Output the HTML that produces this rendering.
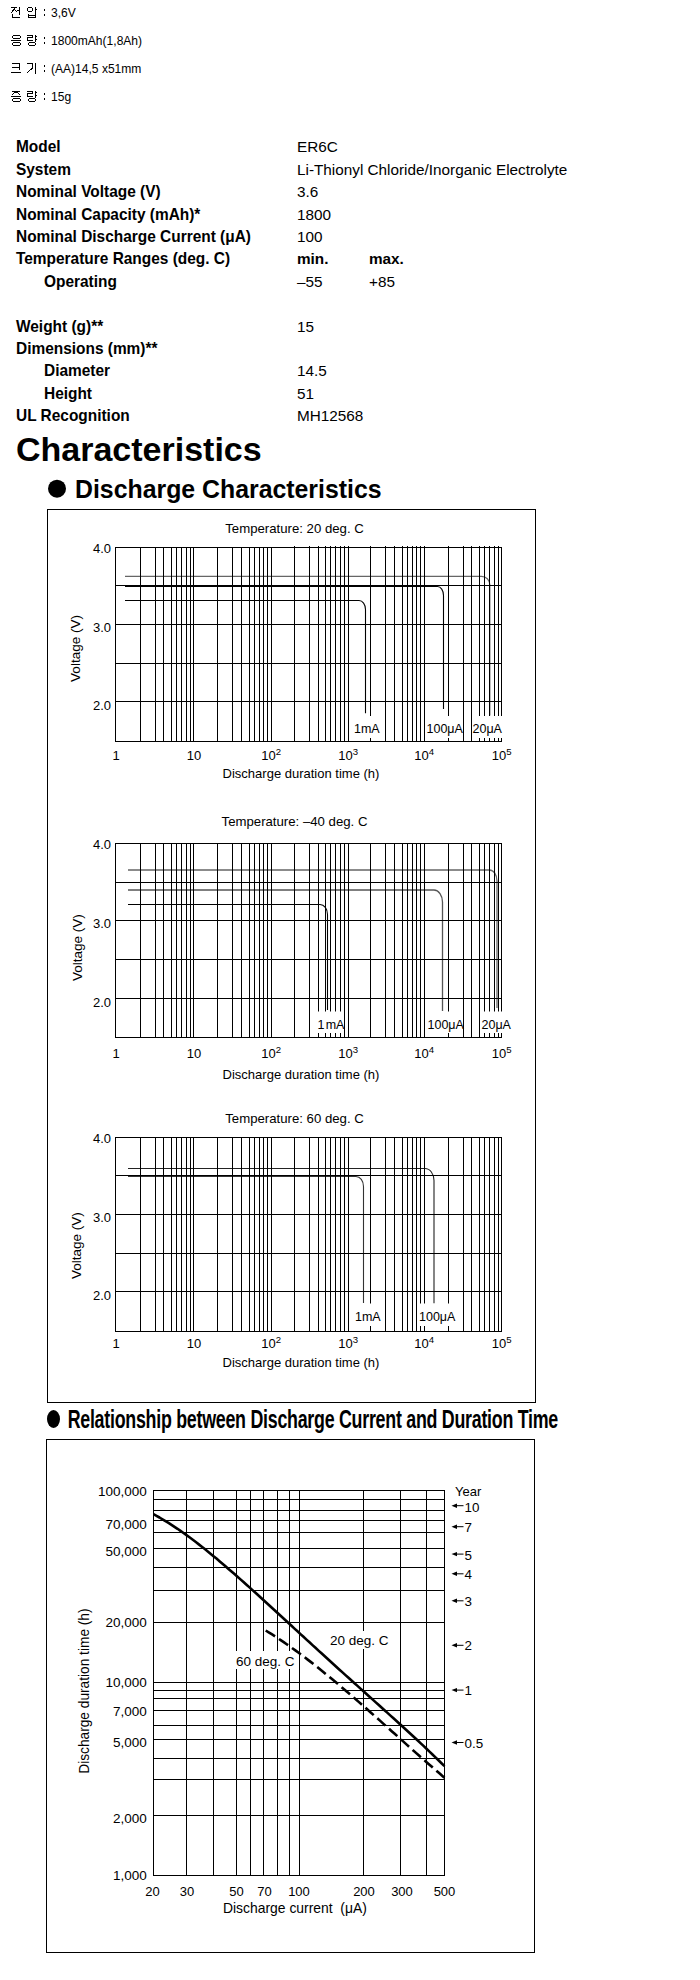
<!DOCTYPE html><html><head><meta charset="utf-8"><title>ER6C</title><style>
html,body{margin:0;padding:0;background:#fff;width:700px;height:1980px;overflow:hidden}
svg{position:absolute;left:0;top:0;font-family:"Liberation Sans", sans-serif}
</style></head><body>
<svg width="700" height="1980" viewBox="0 0 700 1980">
<path transform="translate(11,7)" d="M0 0.5H6M3.5 1L0.5 6M3.5 2.5L6.5 5.5M8.5 0V8M6 3.5H9M1.5 7V11M1 10.5H9" fill="none" stroke="#000" stroke-width="1" shape-rendering="crispEdges"/>
<path transform="translate(27,7)" d="M1 0.5H5M1 4.5H5M0.5 1V4M5.5 1V4M8.5 0V8M8 2.5H10M1.5 7V11M8.5 7V11M1 8.5H9M1 10.5H9" fill="none" stroke="#000" stroke-width="1" shape-rendering="crispEdges"/>
<rect x="44" y="9" width="1" height="2" fill="#000"/><rect x="44" y="14" width="1" height="2" fill="#000"/>
<text x="51" y="17" font-size="13.4" transform="translate(51 0) scale(0.9 1) translate(-51 0)">3,6V</text>
<path transform="translate(11,35)" d="M2 0.5H9M2 3.5H9M1.5 1V3M9.5 1V3M0 5.5H10M2 7.5H9M2 10.5H9M1.5 8V10M9.5 8V10" fill="none" stroke="#000" stroke-width="1" shape-rendering="crispEdges"/>
<path transform="translate(27,35)" d="M0 0.5H6M5.5 0V3M0 2.5H6M0.5 2V6M0 5.5H6M8.5 0V7M8 1.5H10M8 4.5H10M2 7.5H8M2 10.5H8M1.5 8V10M8.5 8V10" fill="none" stroke="#000" stroke-width="1" shape-rendering="crispEdges"/>
<rect x="44" y="37" width="1" height="2" fill="#000"/><rect x="44" y="42" width="1" height="2" fill="#000"/>
<text x="51" y="45" font-size="13.4" transform="translate(51 0) scale(0.9 1) translate(-51 0)">1800mAh(1,8Ah)</text>
<path transform="translate(11,63)" d="M1 0.5H9M1 4.5H9M8.5 0V7M0 9.5H10" fill="none" stroke="#000" stroke-width="1" shape-rendering="crispEdges"/>
<path transform="translate(27,63)" d="M0 0.5H6M5.5 0V5M5.5 5L0.5 9.5M8.5 0V11" fill="none" stroke="#000" stroke-width="1" shape-rendering="crispEdges"/>
<rect x="44" y="65" width="1" height="2" fill="#000"/><rect x="44" y="70" width="1" height="2" fill="#000"/>
<text x="51" y="73" font-size="13.4" transform="translate(51 0) scale(0.9 1) translate(-51 0)">(AA)14,5 x51mm</text>
<path transform="translate(11,91)" d="M1 0.5H9M5 0.8L1 3.5M5 0.8L9 3.5M0 5.5H10M2 7.5H9M2 10.5H9M1.5 8V10M9.5 8V10" fill="none" stroke="#000" stroke-width="1" shape-rendering="crispEdges"/>
<path transform="translate(27,91)" d="M0 0.5H6M5.5 0V3M0 2.5H6M0.5 2V6M0 5.5H6M8.5 0V7M8 1.5H10M8 4.5H10M2 7.5H8M2 10.5H8M1.5 8V10M8.5 8V10" fill="none" stroke="#000" stroke-width="1" shape-rendering="crispEdges"/>
<rect x="44" y="93" width="1" height="2" fill="#000"/><rect x="44" y="98" width="1" height="2" fill="#000"/>
<text x="51" y="101" font-size="13.4" transform="translate(51 0) scale(0.9 1) translate(-51 0)">15g</text>
<text x="16" y="152.4" font-size="15.8" font-weight="bold" transform="translate(16 0) scale(0.978 1) translate(-16 0)">Model</text>
<text x="297" y="152.4" font-size="15.3">ER6C</text>
<text x="16" y="174.8" font-size="15.8" font-weight="bold" transform="translate(16 0) scale(0.978 1) translate(-16 0)">System</text>
<text x="297" y="174.8" font-size="15.3">Li-Thionyl Chloride/Inorganic Electrolyte</text>
<text x="16" y="197.2" font-size="15.8" font-weight="bold" transform="translate(16 0) scale(0.978 1) translate(-16 0)">Nominal Voltage (V)</text>
<text x="297" y="197.2" font-size="15.3">3.6</text>
<text x="16" y="219.6" font-size="15.8" font-weight="bold" transform="translate(16 0) scale(0.978 1) translate(-16 0)">Nominal Capacity (mAh)*</text>
<text x="297" y="219.6" font-size="15.3">1800</text>
<text x="16" y="242.0" font-size="15.8" font-weight="bold" transform="translate(16 0) scale(0.978 1) translate(-16 0)">Nominal Discharge Current (μA)</text>
<text x="297" y="242.0" font-size="15.3">100</text>
<text x="16" y="264.4" font-size="15.8" font-weight="bold" transform="translate(16 0) scale(0.978 1) translate(-16 0)">Temperature Ranges (deg. C)</text>
<text x="297" y="264.4" font-size="15.3" font-weight="bold">min.</text>
<text x="369" y="264.4" font-size="15.3" font-weight="bold">max.</text>
<text x="44" y="286.8" font-size="15.8" font-weight="bold" transform="translate(44 0) scale(0.978 1) translate(-44 0)">Operating</text>
<text x="297" y="286.8" font-size="15.3">–55</text>
<text x="369" y="286.8" font-size="15.3">+85</text>
<text x="16" y="331.6" font-size="15.8" font-weight="bold" transform="translate(16 0) scale(0.978 1) translate(-16 0)">Weight (g)**</text>
<text x="297" y="331.6" font-size="15.3">15</text>
<text x="16" y="354.0" font-size="15.8" font-weight="bold" transform="translate(16 0) scale(0.978 1) translate(-16 0)">Dimensions (mm)**</text>
<text x="44" y="376.4" font-size="15.8" font-weight="bold" transform="translate(44 0) scale(0.978 1) translate(-44 0)">Diameter</text>
<text x="297" y="376.4" font-size="15.3">14.5</text>
<text x="44" y="398.8" font-size="15.8" font-weight="bold" transform="translate(44 0) scale(0.978 1) translate(-44 0)">Height</text>
<text x="297" y="398.8" font-size="15.3">51</text>
<text x="16" y="421.2" font-size="15.8" font-weight="bold" transform="translate(16 0) scale(0.978 1) translate(-16 0)">UL Recognition</text>
<text x="297" y="421.2" font-size="15.3">MH12568</text>
<text x="16" y="461.3" font-size="34" font-weight="bold">Characteristics</text>
<circle cx="57" cy="488.7" r="9" fill="#000"/>
<text x="75" y="497.7" font-size="24.85" font-weight="bold">Discharge Characteristics</text>
<rect x="47.5" y="509.5" width="488" height="893" fill="none" stroke="#000" stroke-width="1" shape-rendering="crispEdges"/>
<path d="M125 576.3H481.5A8.3 8.5 0 0 1 489.8 584.8V715.5" stroke="#666" stroke-width="1.25" fill="none"/>
<path d="M125 586.5H437.5A6 9 0 0 1 443.5 595.5V709" stroke="#000" stroke-width="1.1" fill="none"/>
<path d="M125 600.5H359A6.5 9 0 0 1 365.5 609.5V713.3" stroke="#000" stroke-width="1.1" fill="none"/>
<path d="M115.5 547V742M140.5 547V742M155.5 547V742M163.5 547V742M171.5 547V742M176.5 547V742M181.5 547V742M186.5 547V742M190.5 547V742M193.5 547V742M217.5 547V742M232.5 547V742M241.5 547V742M249.5 547V742M254.5 547V742M259.5 547V742M263.5 547V742M267.5 547V742M271.5 547V742M294.5 546V742M309.5 546V742M318.5 546V742M325.5 546V742M330.5 546V742M335.5 546V742M340.5 546V742M344.5 546V742M348.5 546V742M370.5 546V742M385.5 546V742M394.5 546V742M402.5 546V742M407.5 546V742M412.5 546V742M416.5 546V742M420.5 546V742M424.5 546V742M448.5 546V742M463.5 546V742M471.5 546V742M479.5 546V742M484.5 546V742M489.5 546V742M494.5 546V742M498.5 546V742M501.5 547V742M115 547.5H502M115 585.5H502M115 624.5H502M115 663.5H502M115 701.5H502M115 741.5H502" stroke="#000" stroke-width="1" fill="none" shape-rendering="crispEdges"/>
<rect x="350" y="716" width="33" height="22" fill="#fff"/>
<rect x="426" y="716" width="36" height="22" fill="#fff"/>
<rect x="472" y="716" width="31" height="22" fill="#fff"/>
<text x="354" y="733" font-size="12.5">1mA</text>
<text x="426.5" y="733" font-size="12.5">100μA</text>
<text x="472.5" y="733" font-size="12.5">20μA</text>
<text x="294.5" y="533" font-size="13.2" text-anchor="middle">Temperature: 20 deg. C</text>
<text x="111" y="553" font-size="13" text-anchor="end">4.0</text>
<text x="111" y="632" font-size="13" text-anchor="end">3.0</text>
<text x="111" y="710" font-size="13" text-anchor="end">2.0</text>
<text transform="translate(80.3 648.5) rotate(-90)" font-size="13.5" text-anchor="middle">Voltage (V)</text>
<text x="116" y="760" font-size="13" text-anchor="middle">1</text>
<text x="194" y="760" font-size="13" text-anchor="middle">10</text>
<text x="261.2" y="760" font-size="13">10<tspan font-size="9.6" dy="-4.6">2</tspan></text>
<text x="338.2" y="760" font-size="13">10<tspan font-size="9.6" dy="-4.6">3</tspan></text>
<text x="414.2" y="760" font-size="13">10<tspan font-size="9.6" dy="-4.6">4</tspan></text>
<text x="491.7" y="760" font-size="13">10<tspan font-size="9.6" dy="-4.6">5</tspan></text>
<text x="301" y="777.5" font-size="13" text-anchor="middle">Discharge duration time (h)</text>
<path d="M128 870H489.5A7.5 11 0 0 1 497 881V1008" stroke="#666" stroke-width="1.3" fill="none"/>
<path d="M128 890H434A8.5 12 0 0 1 442.5 902V1011" stroke="#555" stroke-width="1.3" fill="none"/>
<path d="M128 904.5H320A7.5 10 0 0 1 327.5 914.5V1010" stroke="#000" stroke-width="1.1" fill="none"/>
<path d="M115.5 843V1038M140.5 843V1038M155.5 843V1038M163.5 843V1038M171.5 843V1038M176.5 843V1038M181.5 843V1038M186.5 843V1038M190.5 843V1038M193.5 843V1038M217.5 843V1038M232.5 843V1038M241.5 843V1038M249.5 843V1038M254.5 843V1038M259.5 843V1038M263.5 843V1038M267.5 843V1038M271.5 843V1038M294.5 843V1038M309.5 843V1038M318.5 843V1038M325.5 843V1038M330.5 843V1038M335.5 843V1038M340.5 843V1038M344.5 843V1038M348.5 843V1038M370.5 843V1038M385.5 843V1038M394.5 843V1038M402.5 843V1038M407.5 843V1038M412.5 843V1038M416.5 843V1038M420.5 843V1038M424.5 843V1038M448.5 843V1038M463.5 843V1038M471.5 843V1038M479.5 843V1038M484.5 843V1038M489.5 843V1038M494.5 843V1038M498.5 843V1038M501.5 843V1038M115 843.5H502M115 882.5H502M115 920.5H502M115 959.5H502M115 998.5H502M115 1037.5H502" stroke="#000" stroke-width="1" fill="none" shape-rendering="crispEdges"/>
<rect x="314" y="1011.5" width="30" height="21.5" fill="#fff"/>
<rect x="426" y="1011.5" width="36" height="21.5" fill="#fff"/>
<rect x="480" y="1011.5" width="32" height="21.5" fill="#fff"/>
<text x="317.5" y="1029" font-size="12.5">1<tspan dx="1.2">mA</tspan></text>
<text x="427.5" y="1029" font-size="12.5">100μA</text>
<text x="481.5" y="1029" font-size="12.5">20μA</text>
<text x="294.5" y="825.5" font-size="13.2" text-anchor="middle">Temperature: –40 deg. C</text>
<text x="111" y="849" font-size="13" text-anchor="end">4.0</text>
<text x="111" y="928" font-size="13" text-anchor="end">3.0</text>
<text x="111" y="1007" font-size="13" text-anchor="end">2.0</text>
<text transform="translate(81.8 947.7) rotate(-90)" font-size="13.5" text-anchor="middle">Voltage (V)</text>
<text x="116" y="1058" font-size="13" text-anchor="middle">1</text>
<text x="194" y="1058" font-size="13" text-anchor="middle">10</text>
<text x="261.2" y="1058" font-size="13">10<tspan font-size="9.6" dy="-4.6">2</tspan></text>
<text x="338.2" y="1058" font-size="13">10<tspan font-size="9.6" dy="-4.6">3</tspan></text>
<text x="414.2" y="1058" font-size="13">10<tspan font-size="9.6" dy="-4.6">4</tspan></text>
<text x="491.7" y="1058" font-size="13">10<tspan font-size="9.6" dy="-4.6">5</tspan></text>
<text x="301" y="1078.7" font-size="13" text-anchor="middle">Discharge duration time (h)</text>
<path d="M128 1168.5H425A9 12 0 0 1 434 1180.5V1303.5" stroke="#222" stroke-width="1.1" fill="none"/>
<path d="M128 1176.5H356A7.5 10 0 0 1 363.5 1186.5V1303" stroke="#333" stroke-width="1.1" fill="none"/>
<path d="M115.5 1137V1332M140.5 1137V1332M155.5 1137V1332M163.5 1137V1332M171.5 1137V1332M176.5 1137V1332M181.5 1137V1332M186.5 1137V1332M190.5 1137V1332M193.5 1137V1332M217.5 1137V1332M232.5 1137V1332M241.5 1137V1332M249.5 1137V1332M254.5 1137V1332M259.5 1137V1332M263.5 1137V1332M267.5 1137V1332M271.5 1137V1332M294.5 1137V1332M309.5 1137V1332M318.5 1137V1332M325.5 1137V1332M330.5 1137V1332M335.5 1137V1332M340.5 1137V1332M344.5 1137V1332M348.5 1137V1332M370.5 1137V1332M385.5 1137V1332M394.5 1137V1332M402.5 1137V1332M407.5 1137V1332M412.5 1137V1332M416.5 1137V1332M420.5 1137V1332M424.5 1137V1332M448.5 1137V1332M463.5 1137V1332M471.5 1137V1332M479.5 1137V1332M484.5 1137V1332M489.5 1137V1332M494.5 1137V1332M498.5 1137V1332M501.5 1137V1332M115 1137.5H502M115 1175.5H502M115 1214.5H502M115 1253.5H502M115 1291.5H502M115 1331.5H502" stroke="#000" stroke-width="1" fill="none" shape-rendering="crispEdges"/>
<rect x="352" y="1303.5" width="32" height="22.5" fill="#fff"/>
<rect x="418" y="1303.5" width="38" height="22.5" fill="#fff"/>
<text x="355" y="1321" font-size="12.5">1mA</text>
<text x="419" y="1321" font-size="12.5">100μA</text>
<text x="294.5" y="1122.5" font-size="13.2" text-anchor="middle">Temperature: 60 deg. C</text>
<text x="111" y="1143" font-size="13" text-anchor="end">4.0</text>
<text x="111" y="1222" font-size="13" text-anchor="end">3.0</text>
<text x="111" y="1300" font-size="13" text-anchor="end">2.0</text>
<text transform="translate(81 1245.7) rotate(-90)" font-size="13.5" text-anchor="middle">Voltage (V)</text>
<text x="116" y="1348" font-size="13" text-anchor="middle">1</text>
<text x="194" y="1348" font-size="13" text-anchor="middle">10</text>
<text x="261.2" y="1348" font-size="13">10<tspan font-size="9.6" dy="-4.6">2</tspan></text>
<text x="338.2" y="1348" font-size="13">10<tspan font-size="9.6" dy="-4.6">3</tspan></text>
<text x="414.2" y="1348" font-size="13">10<tspan font-size="9.6" dy="-4.6">4</tspan></text>
<text x="491.7" y="1348" font-size="13">10<tspan font-size="9.6" dy="-4.6">5</tspan></text>
<text x="301" y="1366.5" font-size="13" text-anchor="middle">Discharge duration time (h)</text>
<ellipse cx="53.5" cy="1419" rx="6.5" ry="8.9" fill="#000"/>
<text x="67.5" y="1427.6" font-size="25.5" font-weight="bold" letter-spacing="-0.38" transform="translate(68 0) scale(0.70 1) translate(-68 0)">Relationship between Discharge Current and Duration Time</text>
<rect x="46.5" y="1439.5" width="488" height="513" fill="none" stroke="#000" stroke-width="1" shape-rendering="crispEdges"/>
<path d="M153.5 1490V1876M186.5 1490V1876M213.5 1490V1876M236.5 1490V1876M250.5 1490V1876M263.5 1490V1876M277.5 1490V1876M289.5 1490V1876M299.5 1490V1876M363.5 1490V1876M400.5 1490V1876M426.5 1490V1876M444.5 1490V1876M153 1490.5H445M153 1499.5H445M153 1510.5H445M153 1520.5H445M153 1532.5H445M153 1548.5H445M153 1567.5H445M153 1590.5H445M153 1622.5H445M153 1682.5H445M153 1690.5H445M153 1698.5H445M153 1710.5H445M153 1725.5H445M153 1739.5H445M153 1758.5H445M153 1779.5H445M153 1815.5H445M153 1875.5H445" stroke="#000" stroke-width="1" fill="none" shape-rendering="crispEdges"/>
<rect x="328" y="1631" width="64" height="18" fill="#fff"/>
<rect x="235" y="1651" width="61" height="18" fill="#fff"/>
<path d="M153.5 1514.2L156.5 1515.8L159.5 1517.5L162.5 1519.3L165.5 1521.1L168.5 1522.9L171.5 1524.8L174.5 1526.8L177.5 1528.8L180.5 1530.9L183.5 1533.0L186.5 1535.1L189.5 1537.3L192.5 1539.5L195.5 1541.8L198.5 1544.1L201.5 1546.5L204.5 1548.8L207.5 1551.2L210.5 1553.7L213.5 1556.2L216.5 1558.6L219.5 1561.2L222.5 1563.7L225.5 1566.3L228.5 1568.9L231.5 1571.5L234.5 1574.1L237.5 1576.7L240.5 1579.4L243.5 1582.0L246.5 1584.7L249.5 1587.4L252.5 1590.1L255.5 1592.8L258.5 1595.5L261.5 1598.3L264.5 1601.0L267.5 1603.7L270.5 1606.5L273.5 1609.2L276.5 1612.0L279.5 1614.8L282.5 1617.5L285.5 1620.3L288.5 1623.0L291.5 1625.8L294.5 1628.6L297.5 1631.3L300.5 1634.1L303.5 1636.8L306.5 1639.6L309.5 1642.3L312.5 1645.1L315.5 1647.8L318.5 1650.6L321.5 1653.3L324.5 1656.0L327.5 1658.8L330.5 1661.5L333.5 1664.2L336.5 1667.0L339.5 1669.7L342.5 1672.4L345.5 1675.1L348.5 1677.8L351.5 1680.5L354.5 1683.2L357.5 1685.9L360.5 1688.6L363.5 1691.3L366.5 1694.0L369.5 1696.7L372.5 1699.4L375.5 1702.1L378.5 1704.8L381.5 1707.5L384.5 1710.2L387.5 1712.9L390.5 1715.6L393.5 1718.3L396.5 1721.0L399.5 1723.8L402.5 1726.5L405.5 1729.2L408.5 1732.0L411.5 1734.8L414.5 1737.5L417.5 1740.3L420.5 1743.1L423.5 1745.9L426.5 1748.8L429.5 1751.6L432.5 1754.5L435.5 1757.4L438.5 1760.3L441.5 1763.2L444.5 1766.2" stroke="#000" stroke-width="2.6" fill="none" stroke-linejoin="round"/>
<path d="M265.7 1630.5L268.7 1632.3L271.7 1634.2L274.7 1636.1L277.7 1638.1L280.7 1640.1L283.7 1642.1L286.7 1644.2L289.7 1646.3L292.7 1648.5L295.7 1650.6L298.7 1652.8L301.7 1655.1L304.7 1657.3L307.7 1659.6L310.7 1661.9L313.7 1664.3L316.7 1666.6L319.7 1669.0L322.7 1671.4L325.7 1673.9L328.7 1676.3L331.7 1678.8L334.7 1681.3L337.7 1683.8L340.7 1686.4L343.7 1688.9L346.7 1691.5L349.7 1694.0L352.7 1696.6L355.7 1699.2L358.7 1701.9L361.7 1704.5L364.7 1707.1L367.7 1709.8L370.7 1712.4L373.7 1715.1L376.7 1717.7L379.7 1720.4L382.7 1723.1L385.7 1725.8L388.7 1728.5L391.7 1731.2L394.7 1733.8L397.7 1736.5L400.7 1739.2L403.7 1741.9L406.7 1744.6L409.7 1747.3L412.7 1749.9L415.7 1752.6L418.7 1755.3L421.7 1757.9L424.7 1760.5L427.7 1763.2L430.7 1765.8L433.7 1768.4L436.7 1771.0L439.7 1773.6L442.7 1776.2L444.5 1777.7" stroke="#000" stroke-width="2.6" fill="none" stroke-dasharray="11 4.8"/>
<text x="330" y="1645" font-size="13.5">20 deg. C</text>
<text x="236" y="1665.7" font-size="13.5">60 deg. C</text>
<text x="146.8" y="1495.5" font-size="13.5" text-anchor="end">100,000</text>
<text x="146.8" y="1528.7" font-size="13.5" text-anchor="end">70,000</text>
<text x="146.8" y="1555.5" font-size="13.5" text-anchor="end">50,000</text>
<text x="146.8" y="1626.6" font-size="13.5" text-anchor="end">20,000</text>
<text x="146.8" y="1687" font-size="13.5" text-anchor="end">10,000</text>
<text x="146.8" y="1715.8" font-size="13.5" text-anchor="end">7,000</text>
<text x="146.8" y="1747" font-size="13.5" text-anchor="end">5,000</text>
<text x="146.8" y="1823" font-size="13.5" text-anchor="end">2,000</text>
<text x="146.8" y="1880" font-size="13.5" text-anchor="end">1,000</text>
<text x="152.5" y="1896" font-size="13" text-anchor="middle">20</text>
<text x="187" y="1896" font-size="13" text-anchor="middle">30</text>
<text x="236.5" y="1896" font-size="13" text-anchor="middle">50</text>
<text x="264.5" y="1896" font-size="13" text-anchor="middle">70</text>
<text x="299" y="1896" font-size="13" text-anchor="middle">100</text>
<text x="364" y="1896" font-size="13" text-anchor="middle">200</text>
<text x="402" y="1896" font-size="13" text-anchor="middle">300</text>
<text x="444.5" y="1896" font-size="13" text-anchor="middle">500</text>
<text x="223" y="1912.8" font-size="13.9" xml:space="preserve">Discharge current  (μA)</text>
<text transform="translate(89.4 1691.1) rotate(-90) scale(0.915 1)" font-size="15" text-anchor="middle">Discharge duration time (h)</text>
<text x="455" y="1496" font-size="13">Year</text>
<path d="M451.5 1505.7L457 1503.5V1507.9Z" fill="#000"/><path d="M456 1505.7H463.5" stroke="#000" stroke-width="1"/>
<text x="464.6" y="1511.8" font-size="13.4">10</text>
<path d="M451.5 1526.7L457 1524.5V1528.9Z" fill="#000"/><path d="M456 1526.7H463.5" stroke="#000" stroke-width="1"/>
<text x="464.6" y="1531.9" font-size="13.4">7</text>
<path d="M451.5 1554.1L457 1551.8999999999999V1556.3Z" fill="#000"/><path d="M456 1554.1H463.5" stroke="#000" stroke-width="1"/>
<text x="464.6" y="1559.6" font-size="13.4">5</text>
<path d="M451.5 1573.8L457 1571.6V1576.0Z" fill="#000"/><path d="M456 1573.8H463.5" stroke="#000" stroke-width="1"/>
<text x="464.6" y="1579.1" font-size="13.4">4</text>
<path d="M451.5 1600.8L457 1598.6V1603.0Z" fill="#000"/><path d="M456 1600.8H463.5" stroke="#000" stroke-width="1"/>
<text x="464.6" y="1606.3" font-size="13.4">3</text>
<path d="M451.5 1645.3L457 1643.1V1647.5Z" fill="#000"/><path d="M456 1645.3H463.5" stroke="#000" stroke-width="1"/>
<text x="464.6" y="1649.7" font-size="13.4">2</text>
<path d="M451.5 1690.1L457 1687.8999999999999V1692.3Z" fill="#000"/><path d="M456 1690.1H463.5" stroke="#000" stroke-width="1"/>
<text x="464.6" y="1694.7" font-size="13.4">1</text>
<path d="M451.5 1742.5L457 1740.3V1744.7Z" fill="#000"/><path d="M456 1742.5H463.5" stroke="#000" stroke-width="1"/>
<text x="464.6" y="1747.6" font-size="13.4">0.5</text>
</svg></body></html>
